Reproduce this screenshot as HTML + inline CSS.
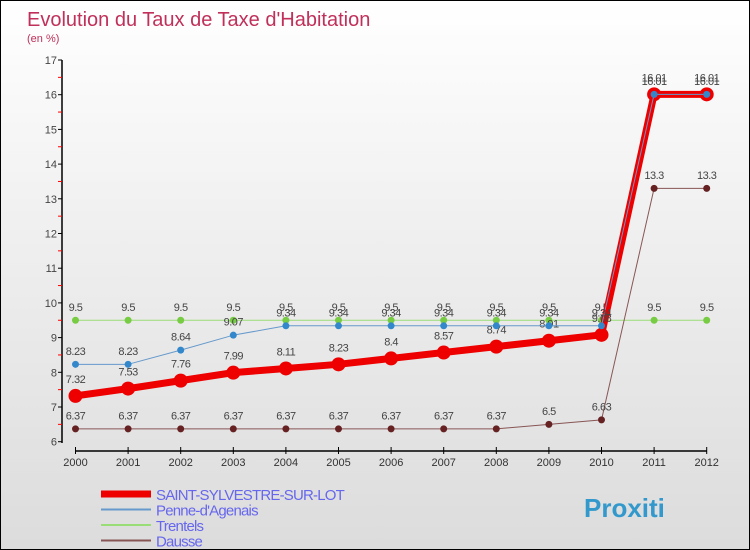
<!DOCTYPE html>
<html><head><meta charset="utf-8"><style>
body{margin:0}
#c{width:750px;height:550px;position:relative;box-sizing:border-box;border:1px solid #000;background:linear-gradient(#fff,#f0f0f0 40%,#dcdcdc);font-family:"Liberation Sans",sans-serif;overflow:hidden}
</style></head><body>
<div id="c">
<svg id="s" width="748" height="548" style="position:absolute;left:0;top:0" font-family="Liberation Sans, sans-serif">
<text x="26" y="25" font-size="20" fill="#c0305a">Evolution du Taux de Taxe d'Habitation</text>
<text x="26" y="41" font-size="11" fill="#c0305a">(en %)</text>
<g id="g"></g>
</svg>
</div>
<script>
const years=[2000,2001,2002,2003,2004,2005,2006,2007,2008,2009,2010,2011,2012];
const saint=[7.32,7.53,7.76,7.99,8.11,8.23,8.4,8.57,8.74,8.91,9.08,16.01,16.01];
const penne=[8.23,8.23,8.64,9.07,9.34,9.34,9.34,9.34,9.34,9.34,9.34,16.01,16.01];
const trentels=[9.5,9.5,9.5,9.5,9.5,9.5,9.5,9.5,9.5,9.5,9.5,9.5,9.5];
const dausse=[6.37,6.37,6.37,6.37,6.37,6.37,6.37,6.37,6.37,6.5,6.63,13.3,13.3];
const yTicks=[6,7,8,9,10,11,12,13,14,15,16,17];
const NS="http://www.w3.org/2000/svg";
const g=document.getElementById('g');
const X=i=>74.5+i*52.6;
const Y=v=>59+(17-v)*34.7;
function el(t,a,p){const e=document.createElementNS(NS,t);for(const k in a)e.setAttribute(k,a[k]);(p||g).appendChild(e);return e;}
// axes
let ya=el('line',{x1:61,y1:59,x2:61,y2:442,stroke:'#000','stroke-width':1.5});


yTicks.forEach(v=>{
 el('line',{x1:57,y1:Y(v),x2:61,y2:Y(v),stroke:'#000'});
 if(v<17) el('line',{x1:57,y1:Y(v+0.5),x2:61,y2:Y(v+0.5),stroke:'#f00'});
 let t=el('text',{x:56,y:Y(v)+4,'font-size':11,'text-anchor':'end',fill:'#444'});
 t.textContent=v;
 
 
});
let xa=el('line',{x1:X(0),y1:450,x2:X(12),y2:450,stroke:'#000','stroke-width':1.5});


years.forEach((yr,i)=>{
 el('line',{x1:X(i),y1:446,x2:X(i),y2:453,stroke:'#000'});
 let t=el('text',{x:X(i),y:465,'font-size':11,'text-anchor':'middle',fill:'#333'});
 t.textContent=yr;
 
 
});
function series(data,name,color,w,r,ptColor,labels){
 const grp=el('g',{});
 
 
 el('polyline',{points:data.map((v,i)=>X(i)+','+Y(v)).join(' '),fill:'none',stroke:color,'stroke-width':w,'stroke-linejoin':'round'},grp);
 data.forEach((v,i)=>{
  const c=el('circle',{cx:X(i),cy:Y(v),r:r,fill:ptColor},grp);
  
  
  if(labels){const t=el('text',{x:X(i),y:Y(v)-(r+6),'font-size':11,'text-anchor':'middle',fill:'#444','letter-spacing':'-0.5'},grp);t.textContent=v;}
 });
}
series(trentels,'trentels-series','#99dd77',1,3.5,'#77cc44',true);
series(dausse,'dausse-series','#885555',1,3.5,'#662222',true);
series(saint,'saint-sylvestre-series','#ee0000',7,7,'#ee0000',true);
series(penne,'penne-series','#6699cc',1,3.5,'#3388cc',true);
// legend
const leg=[['SAINT-SYLVESTRE-SUR-LOT','#ee0000',7],['Penne-d\'Agenais','#6699cc',2],['Trentels','#99dd77',2],['Dausse','#885555',2]];
leg.forEach((l,i)=>{
 const y=493+i*15.5;
 const lg=el('g',{});
 
 
 el('line',{x1:100,y1:y,x2:150,y2:y,stroke:l[1],'stroke-width':l[2]},lg);
 const t=el('text',{x:155,y:y+6,'font-size':15,fill:'#6666ee','letter-spacing':'-0.8'},lg);
 t.textContent=l[0];
});
const p=el('text',{x:583,y:516,'font-size':26,'font-weight':'bold',fill:'#3399cc'});
p.textContent='Proxiti';


</script>
</body></html>
